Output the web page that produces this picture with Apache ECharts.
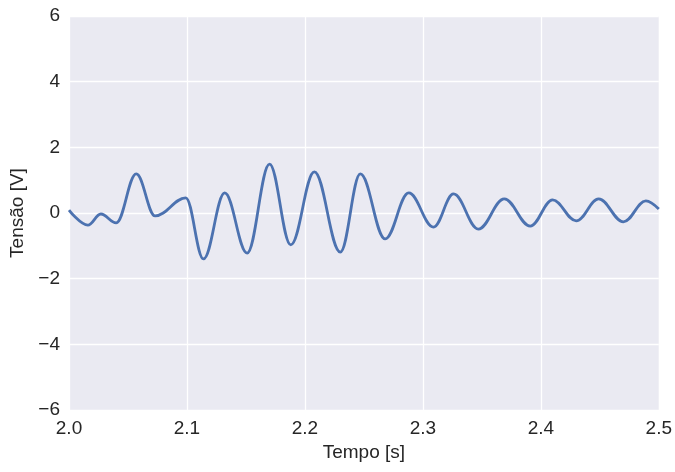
<!DOCTYPE html>
<html>
<head>
<meta charset="utf-8">
<script src="https://cdn.jsdelivr.net/npm/echarts@6/dist/echarts.min.js"></script>
<style>
html,body{margin:0;padding:0;background:#fff;}
#chart{width:675px;height:472px;}
</style>
</head>
<body>
<div id="chart"></div>
<script>
// Time (s) and voltage (V) (local extrema of the trace)
const tempo = [2.000, 2.016, 2.027, 2.040, 2.057, 2.073, 2.099, 2.114, 2.132, 2.151,
               2.170, 2.188, 2.208, 2.230, 2.247, 2.268, 2.288, 2.309, 2.326, 2.347,
               2.369, 2.391, 2.410, 2.430, 2.449, 2.470, 2.489, 2.500];
const tensao = [0.09, -0.37, -0.03, -0.30, 1.19, -0.09, 0.46, -1.40, 0.61, -1.22,
                1.49, -0.97, 1.25, -1.19, 1.19, -0.79, 0.61, -0.43, 0.58, -0.49,
                0.43, -0.40, 0.40, -0.24, 0.43, -0.27, 0.37, 0.12];
const xTicks = [2.0, 2.1, 2.2, 2.3, 2.4, 2.5];
const yTicks = [-6, -4, -2, 0, 2, 4, 6];

const data = tempo.map((t, i) => [t, tensao[i]]);
const font = 'Liberation Sans, Arial, sans-serif';
const chart = echarts.init(document.getElementById('chart'), null, {renderer: 'canvas'});
chart.setOption({
  animation: false,
  backgroundColor: '#ffffff',
  grid: {left: 69, right: 15, top: 16, bottom: 62, show: true, backgroundColor: '#EAEAF2', borderWidth: 0},
  xAxis: {
    type: 'value', min: xTicks[0], max: xTicks[xTicks.length - 1], interval: 0.1,
    name: 'Tempo [s]', nameLocation: 'middle', nameGap: 31,
    nameTextStyle: {color: '#262626', fontSize: 19, fontFamily: font},
    axisLine: {show: false}, axisTick: {show: false},
    axisLabel: {color: '#262626', fontSize: 19, fontFamily: font, margin: 9,
      formatter: v => v.toFixed(1)},
    splitLine: {show: true, lineStyle: {color: '#ffffff', width: 1.3}}
  },
  yAxis: {
    type: 'value', min: yTicks[0], max: yTicks[yTicks.length - 1], interval: 2,
    name: 'Tensão [V]', nameLocation: 'middle', nameGap: 41,
    nameTextStyle: {color: '#262626', fontSize: 19, fontFamily: font},
    axisLine: {show: false}, axisTick: {show: false},
    axisLabel: {color: '#262626', fontSize: 19, fontFamily: font, margin: 9,
      formatter: v => String(v).replace('-', '\u2212')},
    splitLine: {show: true, lineStyle: {color: '#ffffff', width: 1.3}}
  },
  series: [{
    type: 'line', data: data, showSymbol: false, smooth: 0.38, smoothMonotone: 'x',
    lineStyle: {color: '#4C72B0', width: 2.8}, clip: true
  }]
});
</script>
</body>
</html>
